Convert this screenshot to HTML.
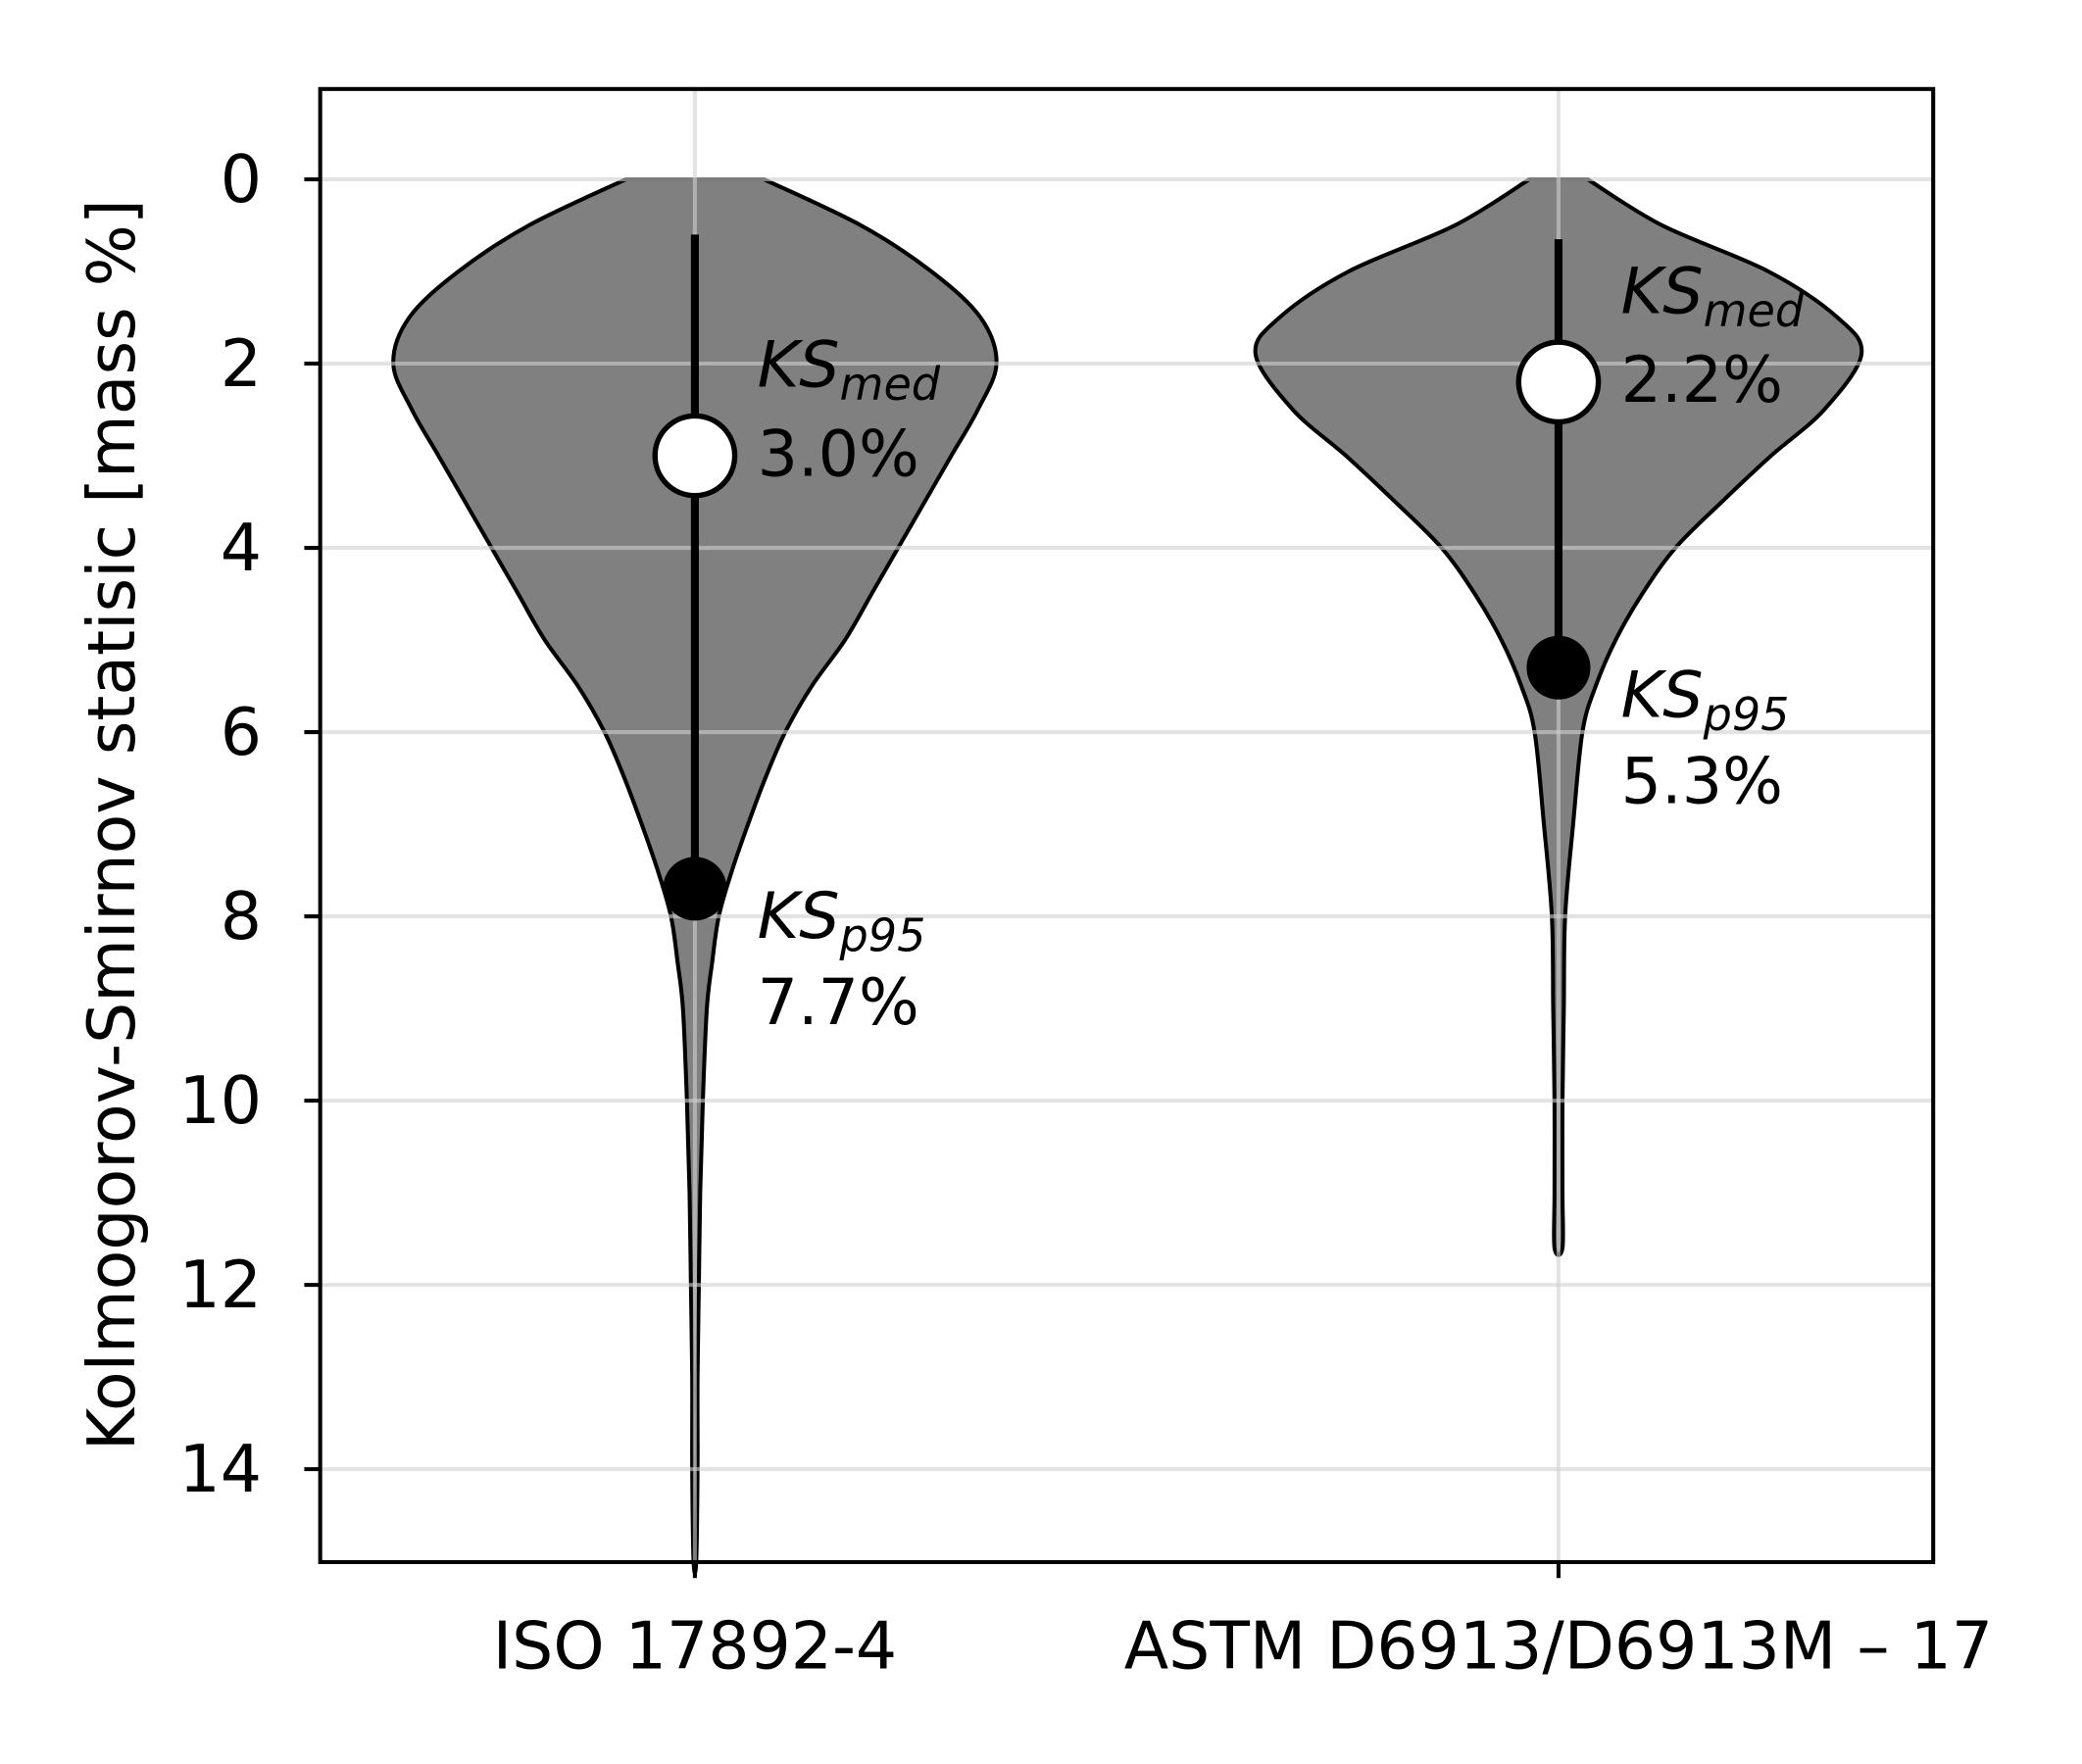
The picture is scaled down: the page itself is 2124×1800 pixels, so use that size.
<!DOCTYPE html>
<html><head><meta charset="utf-8"><style>
html,body{margin:0;padding:0;background:#fff}
svg{display:block}
text{font-family:"DejaVu Sans","Liberation Sans",sans-serif;fill:#000}
</style></head><body>
<svg id="chart" width="2124" height="1800" viewBox="0 0 1567 1328" preserveAspectRatio="none">
<rect x="0" y="0" width="1567" height="1328" fill="#fff"/>
<g id="plot"></g>
</svg>
<script>
const categories = ["ISO 17892-4", "ASTM D6913/D6913M \u2013 17"];
const yTicks = [0, 2, 4, 6, 8, 10, 12, 14];
const isoY = [0, 0.5, 1, 1.5, 2, 2.5, 3, 3.5, 4, 4.5, 5, 5.5, 6, 6.5, 7, 7.5, 8, 8.5, 9, 10, 11, 12, 13, 14, 15];
const isoW = [52, 125, 178, 215, 227, 213, 193, 173, 153, 133, 113, 88, 68, 53, 40, 28, 18, 13, 9, 6, 4, 3, 2, 2, 1];
const astmY = [0, 0.5, 1, 1.5, 1.9, 2.5, 3, 3.5, 4, 4.5, 5, 5.5, 6, 7, 8, 9, 10, 11, 11.6];
const astmW = [22, 78, 158, 210, 228, 200, 160, 123, 88, 63, 43, 28, 18, 11, 5, 4, 3, 3, 3];
const medians = [3.0, 2.2];
const p95s = [7.7, 5.3];
const whiskerTop = [0.6, 0.65];

const L=241,R=1455,T=67,B=1176;
const yS = v => 135 + v*69.36;
const xS = i => 523 + i*650;
const NS="http://www.w3.org/2000/svg";
const g=document.getElementById('plot');
function mk(tag, attrs, parent){const e=document.createElementNS(NS,tag);for(const k in attrs)e.setAttribute(k,attrs[k]);(parent||g).appendChild(e);return e;}

const profiles=[[isoY,isoW],[astmY,astmW]];
profiles.forEach((p,i)=>{
  const [ys,ws]=p; const cx=xS(i);
  let pts=[];
  for(let k=0;k<ys.length;k++) pts.push([cx-ws[k],yS(ys[k])]);
  for(let k=ys.length-1;k>=0;k--) pts.push([cx+ws[k],yS(ys[k])]);
  let d="M"+pts[0][0]+","+pts[0][1];
  for(let k=0;k<pts.length-1;k++){
    const p0=pts[Math.max(0,k-1)],p1=pts[k],p2=pts[k+1],p3=pts[Math.min(pts.length-1,k+2)];
    const c1=[p1[0]+(p2[0]-p0[0])/6,p1[1]+(p2[1]-p0[1])/6];
    const c2=[p2[0]-(p3[0]-p1[0])/6,p2[1]-(p3[1]-p1[1])/6];
    d+=" C"+c1[0]+","+c1[1]+" "+c2[0]+","+c2[1]+" "+p2[0]+","+p2[1];
  }
  d+="Z";
  const v=mk('path',{d:d,fill:'#808080',stroke:'#000','stroke-width':3});
  
  
});
yTicks.forEach(t=>{
  const l=mk('line',{x1:L,x2:R,y1:yS(t),y2:yS(t),stroke:'#d0d0d0','stroke-opacity':0.6,'stroke-width':3});
  
  
});
categories.forEach((c,i)=>{
  const l=mk('line',{x1:xS(i),x2:xS(i),y1:T,y2:B,stroke:'#d0d0d0','stroke-opacity':0.6,'stroke-width':3});
  
  
});
categories.forEach((c,i)=>{
  const cx=xS(i);
  const w=mk('line',{x1:cx,x2:cx,y1:yS(whiskerTop[i]),y2:yS(p95s[i]),stroke:'#000','stroke-width':6});
  
  
  const pm=mk('circle',{cx:cx,cy:yS(p95s[i]),r:24,fill:'#000'});
  
  
  const mm=mk('circle',{cx:cx,cy:yS(medians[i]),r:30,fill:'#fff',stroke:'#000','stroke-width':4});
  
  
  const tx=cx+47;
  const a1=mk('text',{x:tx,y:yS(medians[i])-52,'font-size':48});
  a1.innerHTML='<tspan font-style="italic">KS</tspan><tspan font-style="italic" font-size="34" dy="10">med</tspan>';
  
  
  const a2=mk('text',{x:tx,y:yS(medians[i])+15,'font-size':48});
  a2.textContent=medians[i].toFixed(1)+'%';
  
  
  const b1=mk('text',{x:tx,y:yS(p95s[i])+37,'font-size':48});
  b1.innerHTML='<tspan font-style="italic">KS</tspan><tspan font-style="italic" font-size="34" dy="10">p95</tspan>';
  
  
  const b2=mk('text',{x:tx,y:yS(p95s[i])+102,'font-size':48});
  b2.textContent=p95s[i].toFixed(1)+'%';
  
  
});
const fr=mk('rect',{x:L,y:T,width:R-L,height:B-T,fill:'none',stroke:'#000','stroke-width':3});


yTicks.forEach(t=>{
  const tk=mk('line',{x1:L-12,x2:L,y1:yS(t),y2:yS(t),stroke:'#000','stroke-width':3});
  
  
  const tl=mk('text',{x:L-44,y:yS(t)+17,'font-size':49,'text-anchor':'end'});
  tl.textContent=t;
  
  
});
categories.forEach((c,i)=>{
  const tk=mk('line',{x1:xS(i),x2:xS(i),y1:B,y2:B+12,stroke:'#000','stroke-width':3});
  
  
  const tl=mk('text',{x:xS(i),y:1256,'font-size':49,'text-anchor':'middle'});
  tl.textContent=c;
  
  
});
const yt=mk('text',{x:0,y:0,'font-size':49,'text-anchor':'middle',transform:'translate(101,621) rotate(-90)'});
yt.textContent='Kolmogorov-Smirnov statisic [mass %]';


</script>
</body></html>
